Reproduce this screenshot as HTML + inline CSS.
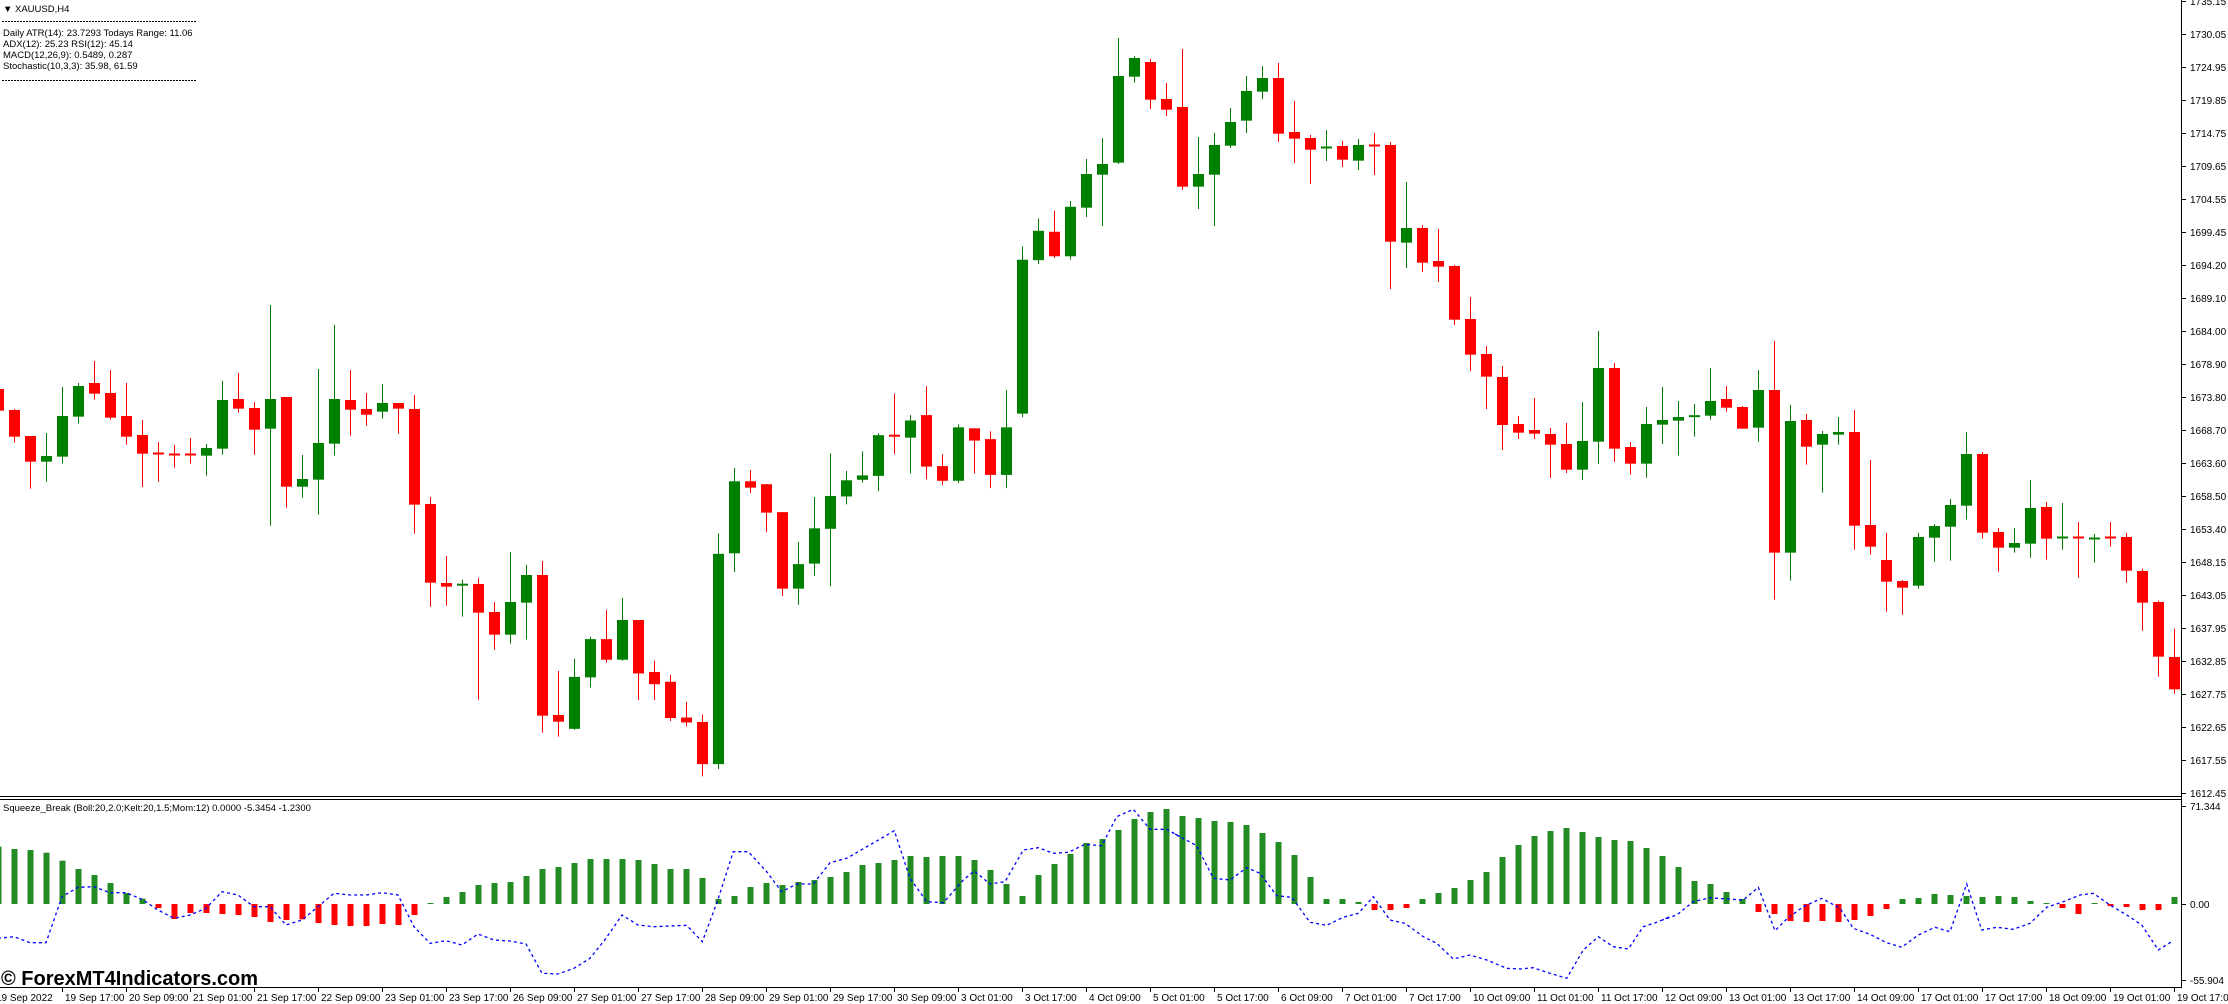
<!DOCTYPE html>
<html><head><meta charset="utf-8"><style>
html,body{margin:0;padding:0;background:#fff;}
svg{display:block;font-family:"Liberation Sans",sans-serif;}
</style></head><body>
<svg id="s" xmlns="http://www.w3.org/2000/svg" width="2228" height="1004" viewBox="0 0 2228 1004">
<rect width="2228" height="1004" fill="#fff"/>
<g id="cand"></g>
<g id="hist"></g>
<polyline id="blue" fill="none" stroke="#0000ff" stroke-width="1.3" stroke-dasharray="3,3" points=""/>
<line x1="0" y1="796.5" x2="2181" y2="796.5" stroke="#000" stroke-width="1"/>
<line x1="0" y1="799.5" x2="2181" y2="799.5" stroke="#000" stroke-width="1"/>
<line x1="2181.5" y1="0" x2="2181.5" y2="988" stroke="#000" stroke-width="1"/>
<line x1="0" y1="987.5" x2="2182" y2="987.5" stroke="#000" stroke-width="1"/>
<g id="ticks" stroke="#000" stroke-width="1"></g>
<g font-size="9.5" fill="#000">
<text x="3" y="12">▼</text><text x="15" y="12">XAUUSD,H4</text>
<line x1="2" y1="21.5" x2="196" y2="21.5" stroke="#000" stroke-width="1" stroke-dasharray="2,1"/>
<text x="3" y="36">Daily ATR(14): 23.7293 Todays Range: 11.06</text>
<text x="3" y="47">ADX(12): 25.23 RSI(12): 45.14</text>
<text x="3" y="58">MACD(12,26,9): 0.5489, 0.287</text>
<text x="3" y="69">Stochastic(10,3,3): 35.98, 61.59</text>
<line x1="2" y1="80.5" x2="196" y2="80.5" stroke="#000" stroke-width="1" stroke-dasharray="2,1"/>
<text x="3" y="811">Squeeze_Break (Boll:20,2.0;Kelt:20,1.5;Mom:12) 0.0000 -5.3454 -1.2300</text>
</g>
<g font-size="10" fill="#000">
<text x="2190" y="5">1735.15</text><text x="2190" y="38">1730.05</text><text x="2190" y="71">1724.95</text><text x="2190" y="104">1719.85</text><text x="2190" y="137">1714.75</text><text x="2190" y="170">1709.65</text><text x="2190" y="203">1704.55</text><text x="2190" y="236">1699.45</text><text x="2190" y="269">1694.20</text><text x="2190" y="302">1689.10</text><text x="2190" y="335">1684.00</text><text x="2190" y="368">1678.90</text><text x="2190" y="401">1673.80</text><text x="2190" y="434">1668.70</text><text x="2190" y="467">1663.60</text><text x="2190" y="500">1658.50</text><text x="2190" y="533">1653.40</text><text x="2190" y="566">1648.15</text><text x="2190" y="599">1643.05</text><text x="2190" y="632">1637.95</text><text x="2190" y="665">1632.85</text><text x="2190" y="698">1627.75</text><text x="2190" y="731">1622.65</text><text x="2190" y="764">1617.55</text><text x="2190" y="797">1612.45</text>
<text x="2190" y="810">71.344</text><text x="2190" y="908">0.00</text><text x="2190" y="984">-55.904</text>
</g>
<g font-size="10" fill="#000">
<text x="-4" y="1001">19 Sep 2022</text><text x="65" y="1001">19 Sep 17:00</text><text x="129" y="1001">20 Sep 09:00</text><text x="193" y="1001">21 Sep 01:00</text><text x="257" y="1001">21 Sep 17:00</text><text x="321" y="1001">22 Sep 09:00</text><text x="385" y="1001">23 Sep 01:00</text><text x="449" y="1001">23 Sep 17:00</text><text x="513" y="1001">26 Sep 09:00</text><text x="577" y="1001">27 Sep 01:00</text><text x="641" y="1001">27 Sep 17:00</text><text x="705" y="1001">28 Sep 09:00</text><text x="769" y="1001">29 Sep 01:00</text><text x="833" y="1001">29 Sep 17:00</text><text x="897" y="1001">30 Sep 09:00</text><text x="961" y="1001">3 Oct 01:00</text><text x="1025" y="1001">3 Oct 17:00</text><text x="1089" y="1001">4 Oct 09:00</text><text x="1153" y="1001">5 Oct 01:00</text><text x="1217" y="1001">5 Oct 17:00</text><text x="1281" y="1001">6 Oct 09:00</text><text x="1345" y="1001">7 Oct 01:00</text><text x="1409" y="1001">7 Oct 17:00</text><text x="1473" y="1001">10 Oct 09:00</text><text x="1537" y="1001">11 Oct 01:00</text><text x="1601" y="1001">11 Oct 17:00</text><text x="1665" y="1001">12 Oct 09:00</text><text x="1729" y="1001">13 Oct 01:00</text><text x="1793" y="1001">13 Oct 17:00</text><text x="1857" y="1001">14 Oct 09:00</text><text x="1921" y="1001">17 Oct 01:00</text><text x="1985" y="1001">17 Oct 17:00</text><text x="2049" y="1001">18 Oct 09:00</text><text x="2113" y="1001">19 Oct 01:00</text><text x="2177" y="1001">19 Oct 17:00</text>
</g>
<text x="1" y="985" font-size="20" font-weight="bold" fill="#000">© ForexMT4Indicators.com</text>
</svg>
<script>
(function(){
var NS="http://www.w3.org/2000/svg";
function el(p,n,a){var e=document.createElementNS(NS,n);for(var k in a)e.setAttribute(k,a[k]);p.appendChild(e);return e;}
var C=[];
function add(oy,sy,k0,arr){arr.forEach(function(a,i){C.push([k0+i,a[0],oy+a[1]/sy,oy+a[2]/sy,oy+a[3]/sy,oy+a[4]/sy]);});}
add(280,3,-1,[
['r',310,327,392,400],['r',387,390,470,488],['r',468,468,545,626],['g',459,528,545,605],['g',321,408,530,551],['g',309,318,410,431],['r',243,309,341,359],['r',270,339,413,419],['r',309,408,470,494],['r',420,465,521,621],['r',486,519,524,605],['r',495,522,527,563],['r',474,522,527,551],['g',492,504,527,587],['g',303,360,506,524],['r',279,357,386,398],['r',366,384,449,524],['g',75,357,446,737],['r',351,351,620,683],['g',525,597,620,653],['g',267,489,599,704],['g',135,357,491,527],['r',270,360,389,467],['r',339,387,404,437],['g',312,369,395,416],['r',369,369,386,461],['r',345,387,674,761],['r',651,672,908,980],['r',828,909,920,977],['g',899,911,917,1010],['r',893,912,998,1259],['r',966,996,1064,1109],['g',816,966,1064,1091],['g',855,885,968,1079],['r',843,885,1307,1358],['r',1173,1305,1325,1370]]);
add(20,2.04,35,[
['g',1303,1340,1446,1448],['g',1258,1263,1341,1362],['r',1203,1263,1305,1311],['g',1179,1224,1305,1307],['r',1224,1224,1333,1387],['r',1307,1330,1355,1387],['r',1336,1350,1424,1430],['r',1391,1423,1433,1441],['r',1417,1432,1518,1543],['g',1047,1089,1518,1528],['g',914,941,1088,1126],['r',918,941,954,965],['r',947,947,1005,1045],['r',1004,1004,1160,1175],['g',1065,1110,1160,1193],['g',973,1037,1109,1134],['g',884,971,1038,1155],['g',920,939,972,988],['g',880,929,938,944],['g',843,847,930,961],['r',762,847,851,886],['g',806,817,852,925],['r',747,806,911,937],['r',886,910,940,949],['g',825,831,940,945],['r',833,833,858,925],['r',839,855,928,955],['g',755,831,928,955],['g',462,489,803,810],['g',405,430,490,498],['r',389,432,482,486],['g',369,381,482,489]]);
add(20,3,67,[
['g',417,462,563,591],['g',354,432,464,618],['g',54,168,428,432],['g',108,114,170,188],['r',117,126,239,267],['r',189,237,269,288],['r',87,261,500,510],['g',351,462,500,567],['g',339,375,464,618],['g',264,306,377,384],['g',168,213,302,339],['g',138,174,215,237],['r',129,174,341,366],['r',243,336,356,429],['r',345,354,389,492],['g',330,381,386,423],['r',363,378,419,441],['g',357,375,422,450],['r',339,375,380,465],['r',366,375,665,807],['g',486,624,668,744],['r',615,624,728,756],['r',627,723,740,786],['r',735,738,899,915],['r',831,897,1004,1053],['r',978,1002,1070,1167],['r',1038,1071,1215,1290],['r',1188,1212,1238,1257],['r',1134,1230,1241,1257],['r',1224,1242,1274,1374],['r',1209,1272,1349,1359],['g',1146,1263,1349,1380],['g',933,1044,1265,1332],['r',1029,1044,1286,1326]]);
add(300,3,101,[
['r',426,441,491,524],['g',321,372,491,533],['g',261,360,374,432],['g',303,351,362,467],['g',312,347,351,410],['g',204,303,347,359],['r',258,297,323,335],['r',318,321,386,386],['g',210,270,383,425],['r',123,270,758,899],['g',315,363,758,842],['r',342,360,440,494],['g',393,402,434,578],['g',351,396,404,434],['r',330,396,677,749],['r',480,675,740,764],['r',699,780,845,935],['r',840,843,863,944],['g',699,711,857,866],['g',672,678,713,785],['g',597,615,680,782],['g',396,462,617,659],['r',456,462,698,716],['r',684,696,743,815],['g',684,729,743,758],['g',540,624,731,773],['r',606,621,716,779],['g',609,711,716,749],['r',666,711,716,833],['g',702,714,716,788],['r',666,711,713,740],['r',699,711,812,848],['r',806,813,908,992],['r',902,906,1070,1130],['r',986,1071,1168,1181]]);
var g=document.getElementById('cand');
C.forEach(function(c){var x=14+16*c[0];var col=c[1]=='g'?'#008000':'#ff0000';
el(g,'rect',{x:x,y:c[2],width:1,height:Math.max(1,c[5]-c[2]),fill:col});
var h=c[4]-c[3];if(h<2){el(g,'rect',{x:x-5,y:c[3]-0.5,width:11,height:2,fill:col});}
else el(g,'rect',{x:x-5,y:c[3],width:11,height:h,fill:col});});
var H=[];
function hadd(oy,k0,arr){arr.forEach(function(v,i){var col='g';if(typeof v=='string'){col='r';v=+v;}H.push([k0+i,col,oy+v/3]);});}
hadd(780,-1,[200,207,210,218,242,267,285,309,339,356,'384','417','399','399','402','405','411','426','420','418','429','435','438','438','432','435','405',370,351,336,315,309,306,288,267,261,249,237,237,237,240,252,267]);
hadd(800,42,[207,234,297,288,261,249,255,246,240,231,216,195,189,180,168,171,168,168,180,210,252,288,225,192,162,129,117,90,57,36,27,
48,54,63,66,75,99,126,165,231,297,297,306,'330','330','324',297,279,264,240,216,171,135,108,93,84,96,111,120,123,144,
168,201,243,252,276,297,'336','342','363','366','363','366','360','348','327',297,294,282,285,288,291,288,291,303,310,'324','342',309,'318','321','330','330',291]);
var hg=document.getElementById('hist');var Z=904;
H.forEach(function(h){var x=14+16*h[0]-2.5;if(h[1]=='g'){var t=Math.min(h[2],Z-1);el(hg,'rect',{x:x,y:t,width:6,height:Z-t,fill:'#228b22'});}
else{el(hg,'rect',{x:x,y:Z,width:6,height:Math.max(1,h[2]-Z),fill:'#ff0000'});}});
var P=[];
var b3=[475,470,488,488,350,322,320,338,338,358,390,415,405,385,335,345,380,380,435,420,380,340,345,345,338,345,440,490,482,495,462,480,483,492,580,582,565,535,475,405,435,440];
b3.forEach(function(v,i){P.push([14+16*(i-1),780+v/3]);});
function padd(ox,arr){for(var i=0;i<arr.length;i+=2)P.push([ox+arr[i]/3,800+arr[i+1]/3]);}
padd(680,[20,376,67,425,110,310,160,155,205,155,260,215,305,275,350,252,400,252,450,188,500,175,540,152,590,123,643,92,690,235,740,305,790,308,850,240,883,213,930,252,975,245,1030,150,1075,143,1120,160,1165,157,1215,133,1265,137,1310,50,1360,28,1410,88,1460,88,1500,110]);
padd(1170,[5,97,80,137,130,235,180,240,230,203,270,220,320,287,365,292,420,367,470,376,520,352,565,340,610,290,660,360,705,370,760,410,800,430,850,477,900,465,950,480,1010,505,1050,507,1090,503,1130,517,1190,535,1240,450,1285,410,1330,440,1375,447,1420,380,1460,367,1500,350]);
padd(1660,[7,360,50,345,100,305,150,293,200,297,250,300,295,262,345,392,380,357,430,320,485,295,540,325,580,385,630,403,680,428,725,442,775,405,825,382,870,395,920,252,965,390,1010,382,1060,388,1110,370,1160,322,1210,305,1260,285,1300,280,1350,315,1400,345,1445,375,1495,450,1540,422]);
document.getElementById('blue').setAttribute('points',P.map(function(p){return p[0].toFixed(1)+','+p[1].toFixed(1);}).join(' '));
var tg=document.getElementById('ticks');
for(var i=0;i<25;i++){var y=1+33*i+0.5;el(tg,'line',{x1:2181,y1:y,x2:2186,y2:y});}
[806.5,904.5,980.5].forEach(function(y){el(tg,'line',{x1:2181,y1:y,x2:2186,y2:y});});
for(var m=-1;m<34;m++){var x=62+64*m+0.5;el(tg,'line',{x1:x,y1:987,x2:x,y2:992});}
})();
</script>
</body></html>
